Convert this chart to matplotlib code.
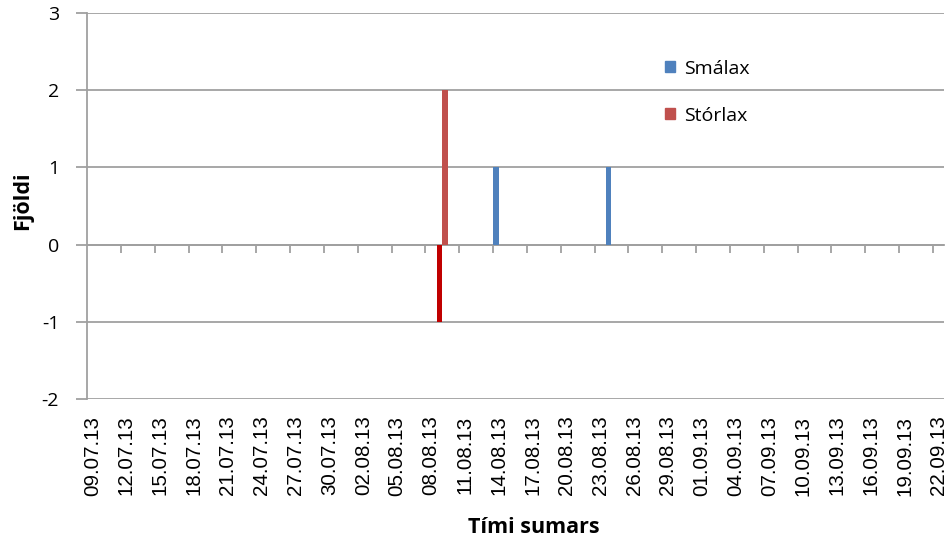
import matplotlib
matplotlib.use("Agg")
import matplotlib.pyplot as plt
import matplotlib.dates as mdates
import numpy as np
import pandas as pd

# Gögn (Data)
dagsetningar = ["09.08.13", "14.08.13", "24.08.13"]
smalax = [-1, 1, 1]
storlax_dagar = ["09.08.13"]
storlax = [2]

upphaf = "09.07.13"
endir = "22.09.13"

x_smalax = mdates.date2num(pd.to_datetime(dagsetningar, format="%d.%m.%y"))
x_storlax = mdates.date2num(pd.to_datetime(storlax_dagar, format="%d.%m.%y"))
x0 = mdates.date2num(pd.to_datetime(upphaf, format="%d.%m.%y"))
x1 = mdates.date2num(pd.to_datetime(endir, format="%d.%m.%y"))

blar = "#4F81BD"
raudur = "#C0504D"
dokkraudur = "#C00000"
grar = "#A0A0A0"

plt.rcParams["font.family"] = ["Open Sans", "DejaVu Sans"]
plt.rcParams["axes.unicode_minus"] = False

fig = plt.figure(figsize=(9.52, 5.39), dpi=100)
ax = fig.add_axes([0.0914, 0.2597, 0.9004, 0.7162])

# neikvæð gildi í dökkrauðu
litir = [dokkraudur if v < 0 else blar for v in smalax]
ax.bar(x_smalax - 0.25, smalax, width=0.5, color=litir, zorder=3)
ax.bar(x_storlax + 0.25, storlax, width=0.5, color=raudur, zorder=3)

ax.set_xlim(x0 - 0.5, x1 + 0.5)
ax.set_ylim(-2, 3)
ax.set_yticks(np.arange(-2, 4, 1))
ax.yaxis.grid(True, color=grar, linewidth=1.3, zorder=0)

for s in ["top", "right", "bottom"]:
    ax.spines[s].set_visible(False)
ax.spines["left"].set_color(grar)
ax.spines["left"].set_linewidth(1.3)
ax.tick_params(axis="y", length=8, width=1.3, color=grar, labelsize=14, pad=12)

# dagsetningar neðst, án strika
merki = np.arange(x0, x1 + 1, 3)
ax.set_xticks(merki)
ax.set_xticklabels([mdates.num2date(m).strftime("%d.%m.%y") for m in merki],
                   rotation=90, family="Liberation Sans", fontsize=14.8)
ax.tick_params(axis="x", length=0, pad=12)

# ás við núll með strikum milli daga
nullas = ax.secondary_xaxis(0, transform=ax.transData)
nullas.set_xticks(merki[1:] - 0.5)
nullas.tick_params(axis="x", length=6, width=1.3, color=grar, labelbottom=False)
nullas.spines["bottom"].set_color(grar)
nullas.spines["bottom"].set_linewidth(1.3)

ax.set_ylabel("Fjöldi", fontsize=15.5, fontweight="bold")
ax.yaxis.set_label_coords(-0.063, 0.513)
ax.set_xlabel("Tími sumars", fontsize=15.5, fontweight="bold", labelpad=15)
ax.xaxis.label.set_x(0.521)

handles = [plt.Rectangle((0, 0), 1, 1, color=blar),
           plt.Rectangle((0, 0), 1, 1, color=raudur)]
ax.legend(handles, ["Smálax", "Stórlax"], loc="center left",
          bbox_to_anchor=(0.6744, 0.795), frameon=False, fontsize=14,
          borderpad=0, borderaxespad=0,
          handlelength=0.5, handleheight=0.5, handletextpad=0.45,
          labelspacing=1.5)

fig.savefig("out.png", dpi=100)
